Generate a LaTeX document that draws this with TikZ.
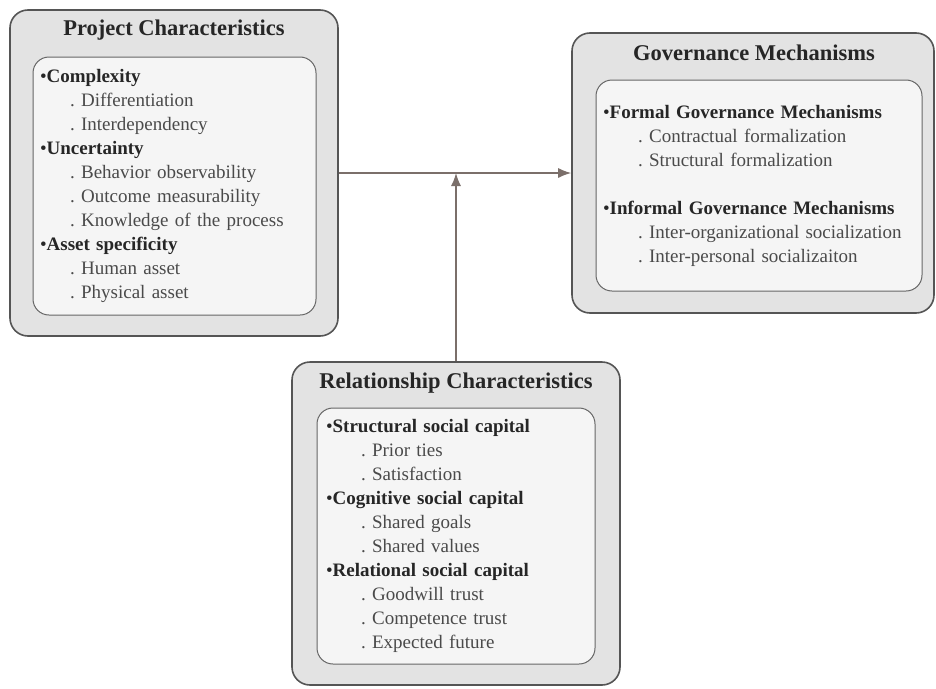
\documentclass[tikz,border=0pt]{standalone}
\usepackage{fontspec}
\setmainfont{Liberation Serif}
\usetikzlibrary{arrows.meta,positioning,calc}

\definecolor{boxline}{HTML}{555555}
\definecolor{outerfill}{HTML}{E3E3E3}
\definecolor{innerfill}{HTML}{F5F5F5}
\definecolor{arrowcol}{HTML}{7B6F6A}
\definecolor{itemcol}{HTML}{4A4A4A}

\newcommand{\bulhead}[1]{{\color{black!85}\textbullet\textbf{#1}}}
\newcommand{\subline}[1]{\hspace*{30pt}{\color{itemcol}.\ #1}}

\tikzset{
    outerbox/.style={draw=boxline, line width=1.6pt, fill=outerfill, rounded corners=18pt},
    innerbox/.style={draw=boxline!90, line width=1pt, fill=innerfill, rounded corners=16pt,
        inner xsep=7pt, inner ysep=0pt, align=left, font=\fontsize{19}{24}\selectfont},
    titletext/.style={font=\fontsize{22.5}{26}\selectfont\bfseries, text=black!85},
    flow/.style={draw=arrowcol, line width=1.4pt, -{Latex[length=13pt,width=10pt]}}
}

\begin{document}
\begin{tikzpicture}[x=1pt, y=-1pt]
    \useasboundingbox (0,0) rectangle (936,688);
    % outer boxes
    \node[outerbox, minimum width=328pt, minimum height=326pt] (proj) at (174,173) {};
    \node[outerbox, minimum width=362pt, minimum height=280pt] (gov) at (753,173) {};
    \node[outerbox, minimum width=328pt, minimum height=323pt] (rel) at (456,523.5) {};
    % titles
    \node[titletext] (projT) at (174,30) {Project Characteristics};
    \node[titletext] (govT) at (754,53) {Governance Mechanisms};
    \node[titletext] (relT) at (456,383) {Relationship Characteristics};
    % inner lists
    \node[innerbox, minimum width=283pt, minimum height=258pt, text width=269pt] (projL) at (174.5,186) {%
        \bulhead{Complexity}\\
        \subline{Differentiation}\\
        \subline{Interdependency}\\
        \bulhead{Uncertainty}\\
        \subline{Behavior observability}\\
        \subline{Outcome measurability}\\
        \subline{Knowledge of the process}\\
        \bulhead{Asset specificity}\\
        \subline{Human asset}\\
        \subline{Physical asset}};
    \node[innerbox, minimum width=326pt, minimum height=211pt, text width=312pt] (govL) at (759,185.5) {%
        \bulhead{Formal Governance Mechanisms}\\
        \hspace*{5pt}\subline{Contractual formalization}\\
        \hspace*{5pt}\subline{Structural formalization}\\[24pt]
        \bulhead{Informal Governance Mechanisms}\\
        \hspace*{5pt}\subline{Inter-organizational socialization}\\
        \hspace*{5pt}\subline{Inter-personal socializaiton}};
    \node[innerbox, minimum width=276pt, minimum height=256pt, text width=260pt, inner xsep=9pt] (relL) at (456,536) {%
        \bulhead{Structural social capital}\\
        \hspace*{5pt}\subline{Prior ties}\\
        \hspace*{5pt}\subline{Satisfaction}\\
        \bulhead{Cognitive social capital}\\
        \hspace*{5pt}\subline{Shared goals}\\
        \hspace*{5pt}\subline{Shared values}\\
        \bulhead{Relational social capital}\\
        \hspace*{5pt}\subline{Goodwill trust}\\
        \hspace*{5pt}\subline{Competence trust}\\
        \hspace*{5pt}\subline{Expected future}};
    % connectors
    \draw[flow] (proj) -- (gov);
    \draw[flow] (rel.north) -- (rel.north |- proj.east);
\end{tikzpicture}
\end{document}
